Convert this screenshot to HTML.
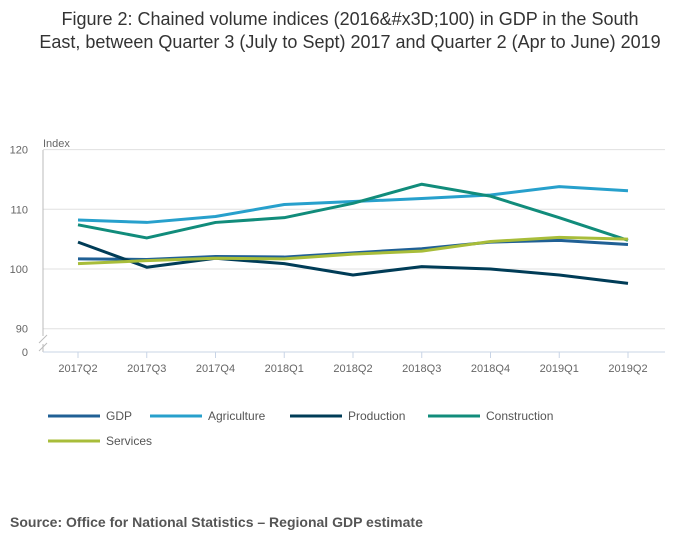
<!DOCTYPE html>
<html><head><meta charset="utf-8"><style>
body{margin:0;background:#fff;font-family:"Liberation Sans",sans-serif;}
#wrap{position:relative;width:700px;height:549px;}
h1{position:absolute;top:8px;left:0;width:700px;margin:0;text-align:center;font-weight:normal;font-size:18px;line-height:23px;color:#333;}
#src{position:absolute;left:10px;top:514px;font-size:14px;font-weight:bold;color:#555;}
</style></head><body>
<div id="wrap">
<h1>Figure 2: Chained volume indices (2016&amp;#x3D;100) in GDP in the South<br>East, between Quarter 3 (July to Sept) 2017 and Quarter 2 (Apr to June) 2019</h1>
<svg id="chart" width="700" height="549" style="position:absolute;left:0;top:0"></svg>
<div id="src">Source: Office for National Statistics – Regional GDP estimate</div>
</div>
<script>
const categories=["2017Q2","2017Q3","2017Q4","2018Q1","2018Q2","2018Q3","2018Q4","2019Q1","2019Q2"];
const gdp=[101.7,101.6,102.1,102.0,102.7,103.4,104.5,104.8,104.1];
const agriculture=[108.2,107.8,108.8,110.8,111.3,111.8,112.4,113.8,113.1];
const production=[104.5,100.3,101.8,100.9,99.0,100.4,100.0,99.0,97.6];
const construction=[107.4,105.2,107.8,108.6,111.0,114.2,112.2,108.6,104.8];
const services=[100.9,101.4,101.8,101.7,102.5,103.0,104.6,105.3,105.0];
const yTicks=[90,100,110,120];
const seriesNames=["GDP","Agriculture","Production","Construction","Services"];
const seriesData=[gdp,agriculture,production,construction,services];
const colors=["#206095","#27a0cc","#003c57","#118c7b","#a8bd3a"];
const NS="http://www.w3.org/2000/svg";
const svg=document.getElementById('chart');
function mk(t,a,p){const e=document.createElementNS(NS,t);for(const k in a)e.setAttribute(k,a[k]);(p||svg).appendChild(e);return e;}
const x0=78,x1=628,left=43,right=665;
function xs(i){return x0+i*(x1-x0)/(categories.length-1);}
function ys(v){return 269-(v-100)*5.97;}
yTicks.forEach(t=>{
 const l=mk('line',{x1:left,x2:right,y1:ys(t),y2:ys(t),stroke:'#e0e0e0','stroke-width':1});
 
 
 const tx=mk('text',{x:28,y:ys(t)+4,'text-anchor':'end','font-size':11,fill:'#666'});tx.textContent=t;
 
 
});
let z=mk('text',{x:28,y:356,'text-anchor':'end','font-size':11,fill:'#666'});z.textContent='0';


let ix=mk('text',{x:43,y:147,'font-size':11,fill:'#666'});ix.textContent='Index';


mk('line',{x1:left,x2:left,y1:150,y2:336,stroke:'#bbb'});
mk('line',{x1:left,x2:left,y1:344,y2:352,stroke:'#bbb'});
mk('line',{x1:39,x2:47,y1:343,y2:335,stroke:'#bbb'});
mk('line',{x1:39,x2:47,y1:351,y2:343,stroke:'#bbb'});
let ax=mk('line',{x1:left,x2:right,y1:352,y2:352,stroke:'#c8d4e6'});


categories.forEach((c,i)=>{
 mk('line',{x1:xs(i),x2:xs(i),y1:352,y2:358,stroke:'#c8d4e6'});
 const t=mk('text',{x:xs(i),y:372,'text-anchor':'middle','font-size':11,fill:'#666'});t.textContent=c;
 
 
});
seriesData.forEach((d,s)=>{
 const p=mk('polyline',{points:d.map((v,i)=>xs(i)+','+ys(v)).join(' '),fill:'none',stroke:colors[s],'stroke-width':3,'stroke-linejoin':'round'});
 
 
});
const lx=[48,150,290,428,48],ly=[416,416,416,416,441];
seriesNames.forEach((n,s)=>{
 const g=mk('g',{});
 
 
 mk('line',{x1:lx[s],x2:lx[s]+52,y1:ly[s],y2:ly[s],stroke:colors[s],'stroke-width':3},g);
 const t=mk('text',{x:lx[s]+58,y:ly[s]+4,'font-size':12,fill:'#555'},g);t.textContent=n;
});
</script>
</body></html>
